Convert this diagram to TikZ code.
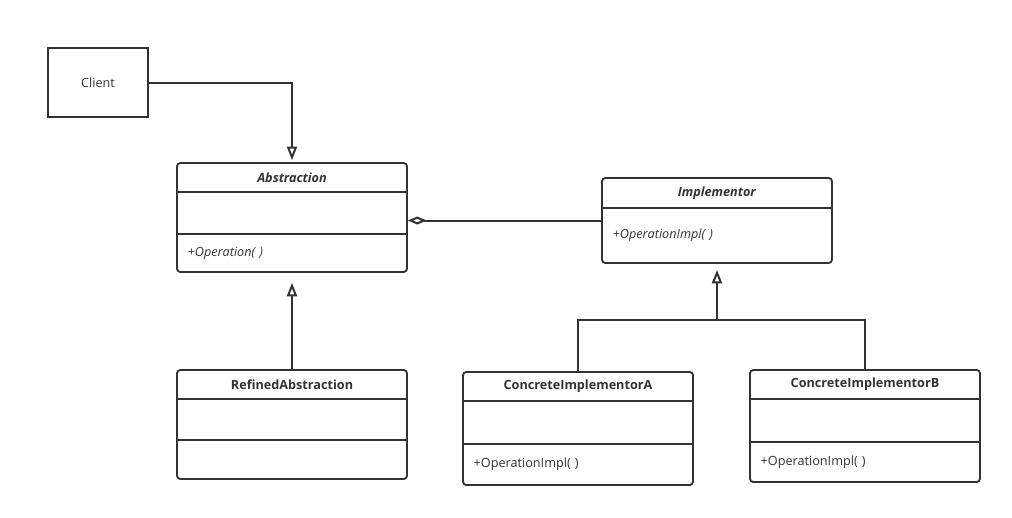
\documentclass[tikz,border=0pt]{standalone}
\usepackage{fontspec}
\setmainfont{Open Sans}
\usetikzlibrary{positioning, arrows.meta, fit}
\definecolor{umlgray}{HTML}{333333}
\tikzset{
every node/.append style={font=\fontsize{9.5}{11}\selectfont, text=umlgray},
part/.style={minimum width=172.5pt, minimum height=#1, inner sep=0pt, outer sep=0pt},
oppart/.style={part=#1, text width=156.5pt, inner xsep=8pt, align=left},
classbox/.style={draw=umlgray, line width=1.4pt, rounded corners=2.5pt, inner sep=0pt, fit=#1},
clientbox/.style={draw=umlgray, line width=1.4pt, minimum width=75pt, minimum height=51.75pt},
divider/.style={draw=umlgray, line width=1.3pt},
link/.style={draw=umlgray, line width=1.5pt},
generalize/.style={link, -{Triangle[open, length=10pt, width=7.5pt]}},
aggregate/.style={link, -{Diamond[open, length=14pt, width=6pt]}},
}

\begin{document}
\begin{tikzpicture}[x=0.75pt, y=-0.75pt]
            \useasboundingbox (0,0) rectangle (1012,517);

            \node[clientbox] (client) at (98,82.5) {Client};

            % Abstraction
            \node[part=21.75pt] (abs) at (292,177.5) {\textbf{\textit{Abstraction}}};
            \node[part=31.5pt, below=0pt of abs] (absattr) {};
            \node[oppart=28.5pt, below=0pt of absattr] (absop) {\textit{+Operation( )}};
            \node[classbox=(abs)(absop)] (absbox) {};
            \draw[divider] (absattr.north west) -- (absattr.north east);
            \draw[divider] (absop.north west) -- (absop.north east);

            % Implementor
            \node[part=22.5pt] (impl) at (717,193) {\textbf{\textit{Implementor}}};
            \node[oppart=41.25pt, below=0pt of impl] (implop) {\textit{+OperationImpl( )}};
            \node[classbox=(impl)(implop)] (implbox) {};
            \draw[divider] (implop.north west) -- (implop.north east);

            % RefinedAbstraction
            \node[part=21.75pt] (ref) at (292,384.5) {\textbf{RefinedAbstraction}};
            \node[part=30.75pt, below=0pt of ref] (refattr) {};
            \node[part=29.25pt, below=0pt of refattr] (refop) {};
            \node[classbox=(ref)(refop)] (refbox) {};
            \draw[divider] (refattr.north west) -- (refattr.north east);
            \draw[divider] (refop.north west) -- (refop.north east);

            % ConcreteImplementorA
            \node[part=21.75pt] (cia) at (578,386.5) {\textbf{ConcreteImplementorA}};
            \node[part=32.25pt, below=0pt of cia] (ciaattr) {};
            \node[oppart=30.75pt, below=0pt of ciaattr] (ciaop) {+OperationImpl( )};
            \node[classbox=(cia)(ciaop)] (ciabox) {};
            \draw[divider] (ciaattr.north west) -- (ciaattr.north east);
            \draw[divider] (ciaop.north west) -- (ciaop.north east);

            % ConcreteImplementorB
            \node[part=21.75pt] (cib) at (865,384.5) {\textbf{ConcreteImplementorB}};
            \node[part=32.25pt, below=0pt of cib] (cibattr) {};
            \node[oppart=30pt, below=0pt of cibattr] (cibop) {+OperationImpl( )};
            \node[classbox=(cib)(cibop)] (cibbox) {};
            \draw[divider] (cibattr.north west) -- (cibattr.north east);
            \draw[divider] (cibop.north west) -- (cibop.north east);

            % Relations
            \draw[generalize, shorten >=1.5pt] (client.east) -| (absbox.north);
            \draw[generalize, shorten >=7.5pt] (refbox.north) -- (absbox.south);
            \draw[aggregate] (implbox.west) -- (implbox.west -| absbox.east);
            \path (implbox.south) ++(0,56) coordinate (fork);
            \draw[generalize, shorten >=4.5pt] (ciabox.north) |- (fork) -- (implbox.south);
            \draw[link] (cibbox.north) |- (fork);
\end{tikzpicture}
\end{document}
